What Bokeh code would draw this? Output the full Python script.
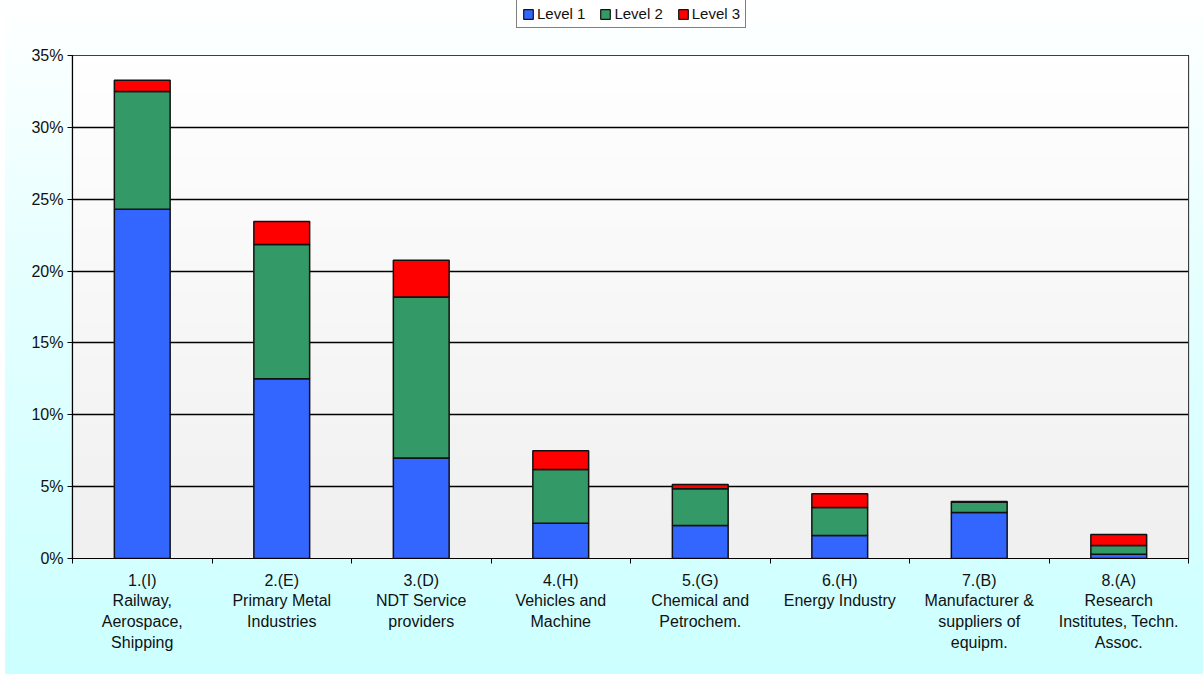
import numpy as np
from bokeh.plotting import figure
from bokeh.layouts import column
from bokeh.models import (ColumnDataSource, FixedTicker, Legend, LegendItem,
                          PrintfTickFormatter, Range1d)
from bokeh.embed import file_html
from bokeh.resources import INLINE

categories = [
    "1.(I)\nRailway,\nAerospace,\nShipping",
    "2.(E)\nPrimary Metal\nIndustries",
    "3.(D)\nNDT Service\nproviders",
    "4.(H)\nVehicles and\nMachine",
    "5.(G)\nChemical and\nPetrochem.",
    "6.(H)\nEnergy Industry",
    "7.(B)\nManufacturer &\nsuppliers of\nequipm.",
    "8.(A)\nResearch\nInstitutes, Techn.\nAssoc.",
]
level1 = [24.3, 12.5, 7.0, 2.45, 2.3, 1.6, 3.2, 0.3]
level2 = [8.2, 9.35, 11.2, 3.75, 2.55, 1.95, 0.72, 0.6]
level3 = [0.78, 1.6, 2.55, 1.3, 0.3, 0.95, 0.05, 0.77]
series = ["Level 1", "Level 2", "Level 3"]
colors = ["#3366FF", "#339966", "#FF0000"]
y_ticks = [0, 5, 10, 15, 20, 25, 30, 35]

n = len(categories)
centers = [i + 0.5 for i in range(n)]
bounds = [float(i) for i in range(n + 1)]

source = ColumnDataSource(dict(x=centers, l1=level1, l2=level2, l3=level3))

p = figure(width=1203, height=629, output_backend="svg", toolbar_location=None,
           x_range=Range1d(0, n), y_range=Range1d(0, 35),
           min_border_left=72, min_border_right=15, min_border_top=10,
           min_border_bottom=116)
p.border_fill_alpha = 0
p.outline_line_color = "#000000"
p.outline_line_width = 1.2

# plot area gradient background
grad_n = 64
t = np.linspace(0, 1, grad_n)  # bottom to top
img = np.empty((grad_n, 1), dtype=np.uint32)
view = img.view(dtype=np.uint8).reshape((grad_n, 1, 4))
g = (240 + 15 * t).astype(np.uint8)
view[:, 0, 0] = g
view[:, 0, 1] = g
view[:, 0, 2] = g
view[:, 0, 3] = 255
p.image_rgba(image=[img], x=0, y=0, dw=n, dh=35, level="image")

renderers = p.vbar_stack(["l1", "l2", "l3"], x="x", width=0.4, source=source,
                         fill_color=colors, line_color="#111111", line_width=1.5)

# axes
p.xaxis.ticker = FixedTicker(ticks=centers, minor_ticks=bounds)
p.xaxis.major_label_overrides = {c: lab for c, lab in zip(centers, categories)}
p.xaxis.major_tick_line_color = None
p.xaxis.minor_tick_in = 0
p.xaxis.minor_tick_out = 5
p.xaxis.minor_tick_line_color = "#000000"
p.xaxis.axis_line_color = "#000000"
p.xaxis.axis_line_width = 1.2
p.xaxis.major_label_text_font = "Liberation Sans"
p.xaxis.major_label_text_font_size = "16px"
p.xaxis.major_label_text_color = "#111111"
p.xaxis.major_label_standoff = 7
p.xaxis.major_label_text_line_height = 1.22

p.yaxis.ticker = FixedTicker(ticks=y_ticks, minor_ticks=[])
p.yaxis.formatter = PrintfTickFormatter(format="%d%%")
p.yaxis.major_tick_in = 0
p.yaxis.major_tick_out = 5
p.yaxis.major_tick_line_color = "#000000"
p.yaxis.minor_tick_line_color = None
p.yaxis.axis_line_color = "#000000"
p.yaxis.axis_line_width = 1.2
p.yaxis.major_label_text_font = "Liberation Sans"
p.yaxis.major_label_text_font_size = "16px"
p.yaxis.major_label_text_color = "#111111"
p.yaxis.major_label_standoff = 4

p.xgrid.grid_line_color = None
p.ygrid.grid_line_color = "#000000"
p.ygrid.grid_line_width = 1.5
p.ygrid.ticker = FixedTicker(ticks=y_ticks)

# legend strip on top
lf = figure(width=1203, height=45, output_backend="svg", toolbar_location=None,
            x_range=Range1d(0, 1), y_range=Range1d(0, 1),
            min_border=0, x_axis_type=None, y_axis_type=None)
lf.border_fill_alpha = 0
lf.background_fill_alpha = 0
lf.outline_line_color = None
lf.xgrid.grid_line_color = None
lf.ygrid.grid_line_color = None
proxies = []
for col, c in zip(["l1", "l2", "l3"], colors):
    r = lf.vbar(x="x", top=col, width=0.1, source=source, fill_color=c,
                line_color="#111111", line_width=1.2)
    r.visible = False
    proxies.append(r)

legend = Legend(items=[LegendItem(label=s, renderers=[r]) for s, r in zip(series, proxies)],
                orientation="horizontal", location=(444, 17))
legend.label_text_font = "Liberation Sans"
legend.label_text_font_size = "15px"
legend.label_text_color = "#111111"
legend.glyph_width = 12
legend.glyph_height = 12
legend.label_standoff = 3
legend.spacing = 14
legend.padding = 5
legend.margin = 0
legend.label_height = 15
legend.border_line_color = "#000000"
legend.border_line_width = 1
legend.background_fill_color = "#ffffff"
legend.background_fill_alpha = 1
lf.add_layout(legend, "center")

layout = column(lf, p, spacing=0,
                styles={"background": "linear-gradient(to bottom, #ffffff 0%, #e6ffff 40%, #ccffff 100%)",
                        "box-shadow": "inset 5px 0 0 #ffffff"})

open("out.html", "w").write(file_html(layout, INLINE))
